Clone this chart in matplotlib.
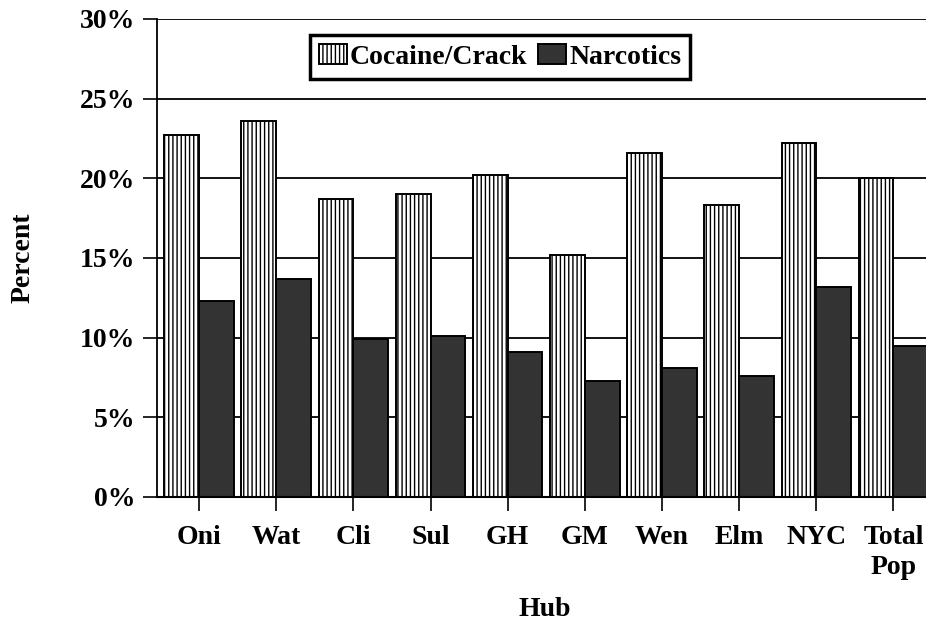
import matplotlib
matplotlib.use("Agg")
import matplotlib.pyplot as plt
import numpy as np

categories = ["Oni", "Wat", "Cli", "Sul", "GH", "GM", "Wen", "Elm", "NYC", "Total\nPop"]
cocaine = [22.7, 23.6, 18.7, 19.0, 20.2, 15.2, 21.6, 18.3, 22.2, 20.0]
narcotics = [12.3, 13.7, 9.9, 10.1, 9.1, 7.3, 8.1, 7.6, 13.2, 9.5]
series_names = ["Cocaine/Crack", "Narcotics"]
yticks = [0, 5, 10, 15, 20, 25, 30]

plt.rcParams['font.family'] = ['Liberation Serif', 'DejaVu Serif']
plt.rcParams['font.weight'] = 'bold'
plt.rcParams['hatch.linewidth'] = 1.0
plt.rcParams['hatch.color'] = 'black'

FS = 20

fig = plt.figure(figsize=(9.26, 6.24), dpi=100)
ax = fig.add_axes([157/926, 127/624, 775/926, 478/624])

x = np.arange(len(categories))
w = 0.45
ax.bar(x - w/2, cocaine, w, facecolor='white', edgecolor='black', linewidth=1.4,
       hatch='||||', label=series_names[0], zorder=3)
ax.bar(x + w/2, narcotics, w, facecolor='#333333', edgecolor='black', linewidth=1.4,
       label=series_names[1], zorder=3)

ax.set_xlim(-0.545, 9.5)
ax.set_ylim(0, 30)
ax.set_yticks(yticks)
ax.set_yticklabels([f"{v}%" for v in yticks], fontsize=FS, fontweight='bold')
ax.set_xticks(x)
ax.set_xticklabels(categories, fontsize=FS, fontweight='bold', linespacing=1.3)
ax.tick_params(axis='both', direction='out', length=10, width=1.2, color='black')
ax.tick_params(axis='y', pad=5.5)
ax.tick_params(axis='x', pad=10)

ax.yaxis.grid(True, color='black', linewidth=1.3, zorder=0)
ax.set_axisbelow(True)
for s in ['top', 'right']:
    ax.spines[s].set_visible(False)
ax.spines['left'].set_linewidth(1.3)
ax.spines['bottom'].set_linewidth(1.5)
ax.spines['bottom'].set_zorder(4)

ax.set_xlabel("Hub", fontsize=FS, fontweight='bold', labelpad=12)
fig.text(23/926, 1 - 258/624, "Percent", rotation=90, fontsize=FS, fontweight='bold',
         ha='center', va='center')

leg = ax.legend(loc='upper left', bbox_to_anchor=((310-157)/775, (497-35)/478), ncol=2,
                frameon=True, fancybox=False, fontsize=FS, handlelength=1.0,
                handleheight=0.7, handletextpad=0.1, columnspacing=0.4,
                borderpad=0.33, borderaxespad=0)
leg.get_frame().set_edgecolor('black')
leg.get_frame().set_linewidth(2.5)
leg.get_frame().set_alpha(1)
for t in leg.get_texts():
    t.set_fontweight('bold')

fig.savefig("out.png", dpi=100)
